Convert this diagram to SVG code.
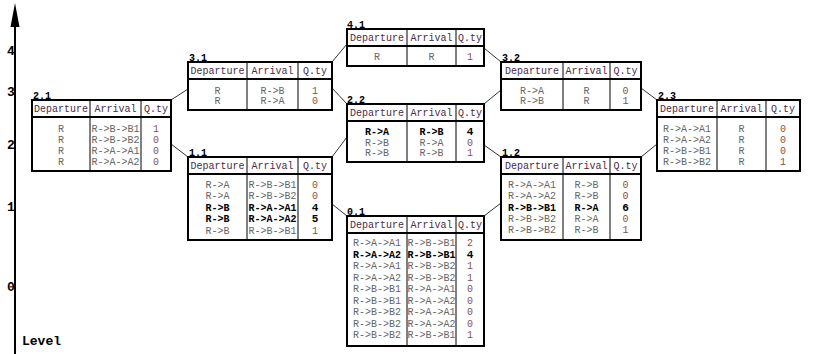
<svg xmlns="http://www.w3.org/2000/svg" width="813" height="354" viewBox="0 0 813 354">
<style>
text{font-family:"Liberation Mono","DejaVu Sans Mono",monospace;font-size:10px;text-anchor:middle}
.box{fill:#fff;stroke:#000;stroke-width:2}
.hl{stroke:#000;stroke-width:2}
.cl{stroke:#000;stroke-width:1}
.hd{fill:#4a2a4a}
.rw{fill:#666}
.q{fill:#8a5048}
.b{fill:#000;font-weight:bold}
.bq{fill:#000;font-weight:bold;font-size:11px}
.lab{fill:#000;font-weight:bold;text-anchor:start}
.lvl{fill:#000;font-weight:bold;font-size:13px;text-anchor:start}
.con line{stroke:#333;stroke-width:1}
</style>
<g id="axis">
<line x1="15" y1="20" x2="15" y2="354" stroke="#000" stroke-width="2"/>
<polygon points="15,3 10.5,27 19.5,27" fill="#000"/>
<text class="lvl" x="7" y="55">4</text>
<text class="lvl" x="7" y="96">3</text>
<text class="lvl" x="7" y="149">2</text>
<text class="lvl" x="7" y="211">1</text>
<text class="lvl" x="7" y="291">0</text>
<text class="lvl" x="22" y="345">Level</text>
</g>
<g class="con" id="connectors">
<line x1="171" y1="100" x2="188" y2="89"/>
<line x1="171" y1="144" x2="188" y2="157"/>
<line x1="332" y1="62" x2="347" y2="44"/>
<line x1="332" y1="88" x2="347" y2="104"/>
<line x1="347" y1="137" x2="332" y2="157"/>
<line x1="332" y1="204" x2="347" y2="216"/>
<line x1="484" y1="48" x2="501" y2="62"/>
<line x1="501" y1="90" x2="484" y2="104"/>
<line x1="641" y1="88" x2="657" y2="100"/>
<line x1="484" y1="145" x2="501" y2="157"/>
<line x1="657" y1="144" x2="641" y2="157"/>
<line x1="501" y1="203" x2="484" y2="216"/>
</g>
<g id="n4_1">
<text class="lab" x="347" y="28">4.1</text>
<rect class="box" x="347" y="29" width="137" height="37"/>
<line class="hl" x1="347" y1="46" x2="484" y2="46"/>
<line class="cl" x1="407" y1="29" x2="407" y2="66"/>
<line class="cl" x1="456" y1="29" x2="456" y2="66"/>
<text class="hd" x="377" y="41">Departure</text><text class="hd" x="431.5" y="41">Arrival</text><text class="hd" x="470" y="41">Q.ty</text>
<text class="rw" x="377" y="60">R</text><text class="rw" x="431.5" y="60">R</text><text class="q" x="470" y="60">1</text>
</g>
<g id="n3_1">
<text class="lab" x="189" y="61">3.1</text>
<rect class="box" x="188" y="62" width="144" height="48"/>
<line class="hl" x1="188" y1="79" x2="332" y2="79"/>
<line class="cl" x1="247" y1="62" x2="247" y2="110"/>
<line class="cl" x1="298" y1="62" x2="298" y2="110"/>
<text class="hd" x="217.5" y="74">Departure</text><text class="hd" x="272.5" y="74">Arrival</text><text class="hd" x="315" y="74">Q.ty</text>
<text class="rw" x="217.5" y="93.5">R</text><text class="rw" x="272.5" y="93.5">R-&gt;B</text><text class="q" x="315" y="93.5">1</text>
<text class="rw" x="217.5" y="104">R</text><text class="rw" x="272.5" y="104">R-&gt;A</text><text class="q" x="315" y="104">0</text>
</g>
<g id="n3_2">
<text class="lab" x="502" y="61">3.2</text>
<rect class="box" x="501" y="62" width="140" height="48"/>
<line class="hl" x1="501" y1="79" x2="641" y2="79"/>
<line class="cl" x1="563" y1="62" x2="563" y2="110"/>
<line class="cl" x1="610" y1="62" x2="610" y2="110"/>
<text class="hd" x="532" y="74">Departure</text><text class="hd" x="586.5" y="74">Arrival</text><text class="hd" x="625.5" y="74">Q.ty</text>
<text class="rw" x="532" y="93.5">R-&gt;A</text><text class="rw" x="586.5" y="93.5">R</text><text class="q" x="625.5" y="93.5">0</text>
<text class="rw" x="532" y="104">R-&gt;B</text><text class="rw" x="586.5" y="104">R</text><text class="q" x="625.5" y="104">1</text>
</g>
<g id="n2_1">
<text class="lab" x="33" y="99">2.1</text>
<rect class="box" x="32" y="100" width="139" height="71"/>
<line class="hl" x1="32" y1="117" x2="171" y2="117"/>
<line class="cl" x1="90" y1="100" x2="90" y2="171"/>
<line class="cl" x1="141" y1="100" x2="141" y2="171"/>
<text class="hd" x="61" y="112">Departure</text><text class="hd" x="115.5" y="112">Arrival</text><text class="hd" x="156" y="112">Q.ty</text>
<text class="rw" x="61" y="131.5">R</text><text class="rw" x="115.5" y="131.5">R-&gt;B-&gt;B1</text><text class="q" x="156" y="131.5">1</text>
<text class="rw" x="61" y="142.5">R</text><text class="rw" x="115.5" y="142.5">R-&gt;B-&gt;B2</text><text class="q" x="156" y="142.5">0</text>
<text class="rw" x="61" y="153.5">R</text><text class="rw" x="115.5" y="153.5">R-&gt;A-&gt;A1</text><text class="q" x="156" y="153.5">0</text>
<text class="rw" x="61" y="164.5">R</text><text class="rw" x="115.5" y="164.5">R-&gt;A-&gt;A2</text><text class="q" x="156" y="164.5">0</text>
</g>
<g id="n2_2">
<text class="lab" x="347" y="103">2.2</text>
<rect class="box" x="347" y="104" width="137" height="58"/>
<line class="hl" x1="347" y1="121" x2="484" y2="121"/>
<line class="cl" x1="407" y1="104" x2="407" y2="162"/>
<line class="cl" x1="456" y1="104" x2="456" y2="162"/>
<text class="hd" x="377" y="116">Departure</text><text class="hd" x="431.5" y="116">Arrival</text><text class="hd" x="470" y="116">Q.ty</text>
<text class="b" x="377" y="135">R-&gt;A</text><text class="b" x="431.5" y="135">R-&gt;B</text><text class="bq" x="470" y="135">4</text>
<text class="rw" x="377" y="145.5">R-&gt;B</text><text class="rw" x="431.5" y="145.5">R-&gt;A</text><text class="q" x="470" y="145.5">0</text>
<text class="rw" x="377" y="156">R-&gt;B</text><text class="rw" x="431.5" y="156">R-&gt;B</text><text class="q" x="470" y="156">1</text>
</g>
<g id="n2_3">
<text class="lab" x="658" y="99">2.3</text>
<rect class="box" x="657" y="100" width="143" height="71"/>
<line class="hl" x1="657" y1="117" x2="800" y2="117"/>
<line class="cl" x1="717" y1="100" x2="717" y2="171"/>
<line class="cl" x1="766" y1="100" x2="766" y2="171"/>
<text class="hd" x="687" y="112">Departure</text><text class="hd" x="741.5" y="112">Arrival</text><text class="hd" x="783" y="112">Q.ty</text>
<text class="rw" x="687" y="131.5">R-&gt;A-&gt;A1</text><text class="rw" x="741.5" y="131.5">R</text><text class="q" x="783" y="131.5">0</text>
<text class="rw" x="687" y="142.5">R-&gt;A-&gt;A2</text><text class="rw" x="741.5" y="142.5">R</text><text class="q" x="783" y="142.5">0</text>
<text class="rw" x="687" y="153.5">R-&gt;B-&gt;B1</text><text class="rw" x="741.5" y="153.5">R</text><text class="q" x="783" y="153.5">0</text>
<text class="rw" x="687" y="164.5">R-&gt;B-&gt;B2</text><text class="rw" x="741.5" y="164.5">R</text><text class="q" x="783" y="164.5">1</text>
</g>
<g id="n1_1">
<text class="lab" x="189" y="156">1.1</text>
<rect class="box" x="188" y="157" width="144" height="83"/>
<line class="hl" x1="188" y1="174" x2="332" y2="174"/>
<line class="cl" x1="247" y1="157" x2="247" y2="240"/>
<line class="cl" x1="298" y1="157" x2="298" y2="240"/>
<text class="hd" x="217.5" y="169">Departure</text><text class="hd" x="272.5" y="169">Arrival</text><text class="hd" x="315" y="169">Q.ty</text>
<text class="rw" x="217.5" y="188">R-&gt;A</text><text class="rw" x="272.5" y="188">R-&gt;B-&gt;B1</text><text class="q" x="315" y="188">0</text>
<text class="rw" x="217.5" y="199">R-&gt;A</text><text class="rw" x="272.5" y="199">R-&gt;B-&gt;B2</text><text class="q" x="315" y="199">0</text>
<text class="b" x="217.5" y="210.5">R-&gt;B</text><text class="b" x="272.5" y="210.5">R-&gt;A-&gt;A1</text><text class="bq" x="315" y="210.5">4</text>
<text class="b" x="217.5" y="222">R-&gt;B</text><text class="b" x="272.5" y="222">R-&gt;A-&gt;A2</text><text class="bq" x="315" y="222">5</text>
<text class="rw" x="217.5" y="233.5">R-&gt;B</text><text class="rw" x="272.5" y="233.5">R-&gt;B-&gt;B1</text><text class="q" x="315" y="233.5">1</text>
</g>
<g id="n1_2">
<text class="lab" x="502" y="156">1.2</text>
<rect class="box" x="501" y="157" width="140" height="83"/>
<line class="hl" x1="501" y1="174" x2="641" y2="174"/>
<line class="cl" x1="563" y1="157" x2="563" y2="240"/>
<line class="cl" x1="610" y1="157" x2="610" y2="240"/>
<text class="hd" x="532" y="169">Departure</text><text class="hd" x="586.5" y="169">Arrival</text><text class="hd" x="625.5" y="169">Q.ty</text>
<text class="rw" x="532" y="188">R-&gt;A-&gt;A1</text><text class="rw" x="586.5" y="188">R-&gt;B</text><text class="q" x="625.5" y="188">0</text>
<text class="rw" x="532" y="199">R-&gt;A-&gt;A2</text><text class="rw" x="586.5" y="199">R-&gt;B</text><text class="q" x="625.5" y="199">0</text>
<text class="b" x="532" y="210.5">R-&gt;B-&gt;B1</text><text class="b" x="586.5" y="210.5">R-&gt;A</text><text class="bq" x="625.5" y="210.5">6</text>
<text class="rw" x="532" y="222">R-&gt;B-&gt;B2</text><text class="rw" x="586.5" y="222">R-&gt;A</text><text class="q" x="625.5" y="222">0</text>
<text class="rw" x="532" y="233">R-&gt;B-&gt;B2</text><text class="rw" x="586.5" y="233">R-&gt;B</text><text class="q" x="625.5" y="233">1</text>
</g>
<g id="n0_1">
<text class="lab" x="347" y="215">0.1</text>
<rect class="box" x="347" y="216" width="137" height="130"/>
<line class="hl" x1="347" y1="233" x2="484" y2="233"/>
<line class="cl" x1="407" y1="216" x2="407" y2="346"/>
<line class="cl" x1="456" y1="216" x2="456" y2="346"/>
<text class="hd" x="377" y="228">Departure</text><text class="hd" x="431.5" y="228">Arrival</text><text class="hd" x="470" y="228">Q.ty</text>
<text class="rw" x="377" y="246">R-&gt;A-&gt;A1</text><text class="rw" x="431.5" y="246">R-&gt;B-&gt;B1</text><text class="q" x="470" y="246">2</text>
<text class="b" x="377" y="257.5">R-&gt;A-&gt;A2</text><text class="b" x="431.5" y="257.5">R-&gt;B-&gt;B1</text><text class="bq" x="470" y="257.5">4</text>
<text class="rw" x="377" y="269">R-&gt;A-&gt;A1</text><text class="rw" x="431.5" y="269">R-&gt;B-&gt;B2</text><text class="q" x="470" y="269">1</text>
<text class="rw" x="377" y="280.5">R-&gt;A-&gt;A2</text><text class="rw" x="431.5" y="280.5">R-&gt;B-&gt;B2</text><text class="q" x="470" y="280.5">1</text>
<text class="rw" x="377" y="292">R-&gt;B-&gt;B1</text><text class="rw" x="431.5" y="292">R-&gt;A-&gt;A1</text><text class="q" x="470" y="292">0</text>
<text class="rw" x="377" y="303.5">R-&gt;B-&gt;B1</text><text class="rw" x="431.5" y="303.5">R-&gt;A-&gt;A2</text><text class="q" x="470" y="303.5">0</text>
<text class="rw" x="377" y="315">R-&gt;B-&gt;B2</text><text class="rw" x="431.5" y="315">R-&gt;A-&gt;A1</text><text class="q" x="470" y="315">0</text>
<text class="rw" x="377" y="326.5">R-&gt;B-&gt;B2</text><text class="rw" x="431.5" y="326.5">R-&gt;A-&gt;A2</text><text class="q" x="470" y="326.5">0</text>
<text class="rw" x="377" y="338">R-&gt;B-&gt;B2</text><text class="rw" x="431.5" y="338">R-&gt;B-&gt;B1</text><text class="q" x="470" y="338">1</text>
</g>
</svg>
